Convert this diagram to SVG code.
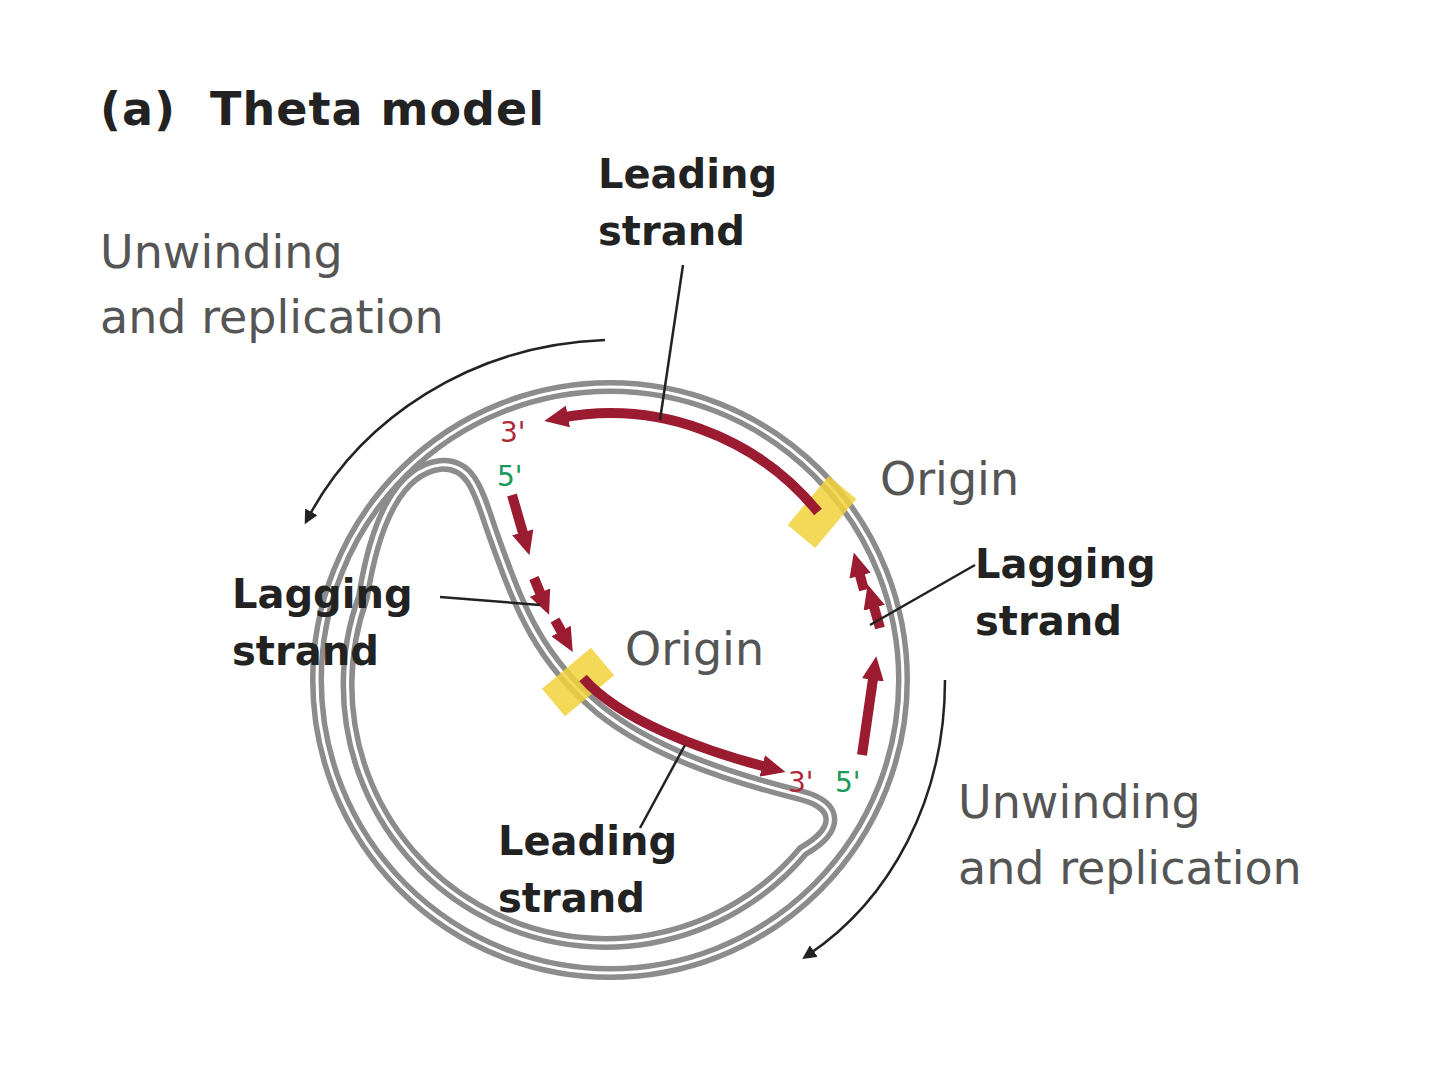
<svg xmlns="http://www.w3.org/2000/svg" width="1440" height="1080" viewBox="0 0 1440 1080">
<style>
.t{font-family:"DejaVu Sans","Liberation Sans",sans-serif}
.b{font-weight:bold;font-size:40px;fill:#222}
.g{font-size:46px;fill:#555}
.dna{fill:none;stroke:#8c8c8c;stroke-width:14}
.dnaw{fill:none;stroke:#fff;stroke-width:3}
.red{fill:none;stroke:#9b1b30;stroke-width:10;marker-end:url(#ra)}
.blk{fill:none;stroke:#222;stroke-width:2.5;marker-end:url(#ba)}
.ld{stroke:#222;stroke-width:2.5;fill:none}
</style>
<defs>
<marker id="ra" markerWidth="24" markerHeight="22" refX="8" refY="11" orient="auto" markerUnits="userSpaceOnUse"><path d="M0,0 L24,11 L0,22 Z" fill="#9b1b30"/></marker>
<marker id="ba" markerWidth="14" markerHeight="14" refX="7" refY="7" orient="auto" markerUnits="userSpaceOnUse"><path d="M0,0 L14,7 L0,14 Z" fill="#222"/></marker>
</defs>
<rect width="1440" height="1080" fill="#fff"/>
<text class="t" x="100" y="125" font-size="46" font-weight="bold" fill="#222" letter-spacing="1" xml:space="preserve">(a)  Theta model</text>
<g id="dna">
<circle cx="610" cy="680" r="293" class="dna"/>
<circle cx="610" cy="680" r="293" class="dnaw"/>
<path d="M 800 795 C 840 805, 840 830, 803 851 A 258 258 0 0 1 363 597 C 375 520, 400 470, 440 465 C 475 462, 480 500, 495 540 C 520 610, 540 660, 600 710 C 650 750, 720 775, 800 795 Z" class="dna"/>
<path d="M 800 795 C 840 805, 840 830, 803 851 A 258 258 0 0 1 363 597 C 375 520, 400 470, 440 465 C 475 462, 480 500, 495 540 C 520 610, 540 660, 600 710 C 650 750, 720 775, 800 795 Z" class="dnaw"/>
</g>
<g id="origin1"><rect x="-32" y="-18" width="64" height="36" fill="#f2d23c" opacity="0.85" transform="translate(822,512) rotate(-50)"/></g>
<g id="origin2"><rect x="-32" y="-18" width="64" height="36" fill="#f2d23c" opacity="0.85" transform="translate(578,682) rotate(-40)"/></g>
<g id="strands">
<path class="red" d="M 818 512 A 268 268 0 0 0 560 418"/>
<path class="red" d="M 583 678 C 620 720, 700 750, 770 768"/>
<path class="red" d="M 512 495 L 525 540"/>
<path class="red" d="M 534 578 L 543 600"/>
<path class="red" d="M 555 620 L 565 638"/>
<path class="red" d="M 862 755 L 874 672"/>
<path class="red" d="M 880 628 L 872 600"/>
<path class="red" d="M 864 590 L 858 568"/>
</g>
<g id="connectors">
<path class="blk" d="M 605 340 C 470 345, 360 420, 308 518"/>
<path class="blk" d="M 945 680 C 945 800, 890 900, 808 955"/>
<path class="ld" d="M 683 265 L 660 420"/>
<path class="ld" d="M 440 597 L 540 605"/>
<path class="ld" d="M 975 565 L 870 625"/>
<path class="ld" d="M 685 745 L 640 828"/>
</g>
<g id="labels">
<text class="t b" x="598" y="188">Leading</text><text class="t b" x="598" y="245">strand</text>
<text class="t g" x="100" y="268">Unwinding</text><text class="t g" x="100" y="333">and replication</text>
<text class="t g" x="880" y="495" font-size="44">Origin</text>
<text class="t g" x="625" y="665" font-size="44">Origin</text>
<text class="t b" x="232" y="608">Lagging</text><text class="t b" x="232" y="665">strand</text>
<text class="t b" x="975" y="578">Lagging</text><text class="t b" x="975" y="635">strand</text>
<text class="t b" x="498" y="855">Leading</text><text class="t b" x="498" y="912">strand</text>
<text class="t g" x="958" y="818">Unwinding</text><text class="t g" x="958" y="884">and replication</text>
<text class="t" x="500" y="442" font-size="28" fill="#b0283c">3'</text>
<text class="t" x="497" y="486" font-size="28" fill="#1a9a5a">5'</text>
<text class="t" x="788" y="792" font-size="28" fill="#b0283c">3'</text>
<text class="t" x="835" y="792" font-size="28" fill="#1a9a5a">5'</text>
</g>
</svg>
